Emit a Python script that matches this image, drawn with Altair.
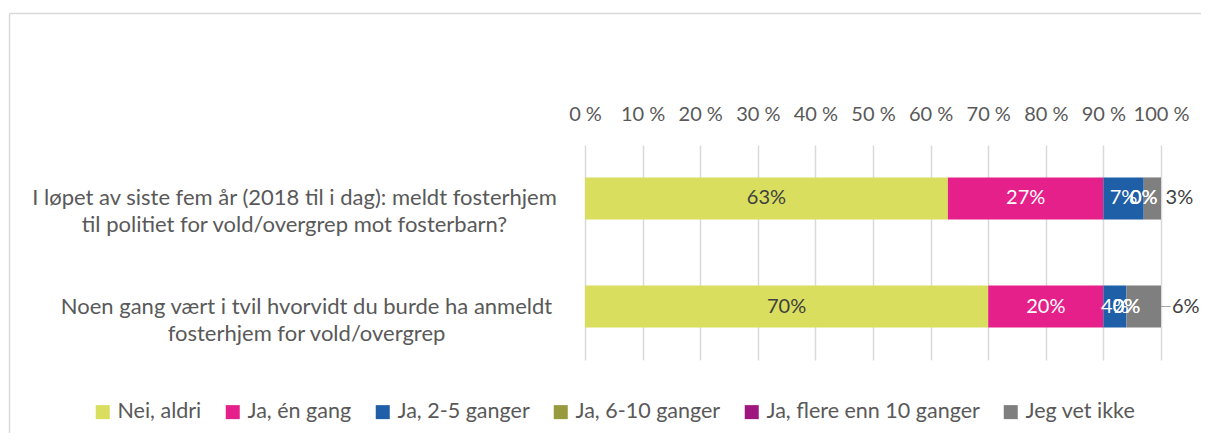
import altair as alt
import pandas as pd

# ---- data ----
questions = [
    "I løpet av siste fem år (2018 til i dag): meldt fosterhjem|til politiet for vold/overgrep mot fosterbarn?",
    "Noen gang vært i tvil hvorvidt du burde ha anmeldt|fosterhjem for vold/overgrep",
]
categories = ["Nei, aldri", "Ja, én gang", "Ja, 2-5 ganger", "Ja, 6-10 ganger",
              "Ja, flere enn 10 ganger", "Jeg vet ikke"]
colors = ["#D9DE5E", "#E6208A", "#1F5FA8", "#979A3D", "#A0167F", "#7F7F7F"]
values_q1 = [63, 27, 7, 0, 0, 3]
values_q2 = [70, 20, 4, 0, 0, 6]
tick_values = [0, 10, 20, 30, 40, 50, 60, 70, 80, 90, 100]
outside_label_pos = [103.2, 104.3]      # data-space position of "Jeg vet ikke" labels
leader_from = [None, 100]
leader_to = [None, 101.7]

FONT = "Lato"
GREY_TXT = "#595959"
DARK_TXT = "#404040"

# ---- build tables ----
rows = []
for q, vals in zip(questions, [values_q1, values_q2]):
    s = 0
    for i, (c, v) in enumerate(zip(categories, vals)):
        rows.append({"question": q, "category": c, "order": i, "value": v,
                     "start": s, "end": s + v, "mid": s + v / 2, "label": f"{v}%"})
        s += v
df = pd.DataFrame(rows)
df_in = df[df["category"] != "Jeg vet ikke"]
df_out = df[df["category"] == "Jeg vet ikke"].copy()
df_out["pos"] = outside_label_pos
df_lead = pd.DataFrame([{"question": q, "x": a, "x2": b}
                        for q, a, b in zip(questions, leader_from, leader_to) if a is not None])

yenc = alt.Y(
    "question:N", sort=questions,
    scale=alt.Scale(paddingInner=0.61, paddingOuter=0.3),
    axis=alt.Axis(
        title=None, labelExpr="split(datum.label, '|')", labelAlign="center",
        labelBaseline="middle",
        labelPadding={"condition": {"test": "indexof(datum.value, 'Noen') == 0", "value": 279},
                      "value": 291},
        labelFont=FONT, labelFontSize=22, labelColor=GREY_TXT, labelLineHeight=27,
        labelLimit=0, domain=False, ticks=False, grid=False,
    ),
)
xscale = alt.Scale(domain=[0, 100], nice=False)

bars = alt.Chart(df).mark_bar().encode(
    x=alt.X("start:Q", scale=xscale, axis=alt.Axis(
        orient="top", values=tick_values, labelExpr="datum.value + ' %'", title=None,
        labelFont=FONT, labelFontSize=20, labelColor=GREY_TXT, labelBaseline="alphabetic",
        labelPadding=25, domain=False, ticks=False, grid=True, gridColor="#D9D9D9",
        gridWidth=1.5, labelFlush=False)),
    x2="end:Q",
    y=yenc,
    color=alt.Color("category:N", sort=categories,
                    scale=alt.Scale(domain=categories, range=colors),
                    legend=alt.Legend(
                        title=None, orient="none", legendX=-493, legendY=256,
                        direction="horizontal", columns=6, symbolType="square",
                        symbolSize=196, symbolStrokeWidth=0, labelFont=FONT,
                        labelFontSize=21.5, labelColor=GREY_TXT, columnPadding=20,
                        labelOffset=4, labelLimit=0)),
)

inner = alt.Chart(df_in).mark_text(font=FONT, fontSize=20, baseline="middle").encode(
    x=alt.X("mid:Q", scale=xscale),
    y=alt.Y("question:N", sort=questions),
    text="label:N",
    color=alt.condition(alt.datum.category == "Nei, aldri", alt.value(DARK_TXT), alt.value("white")),
)

outer = alt.Chart(df_out).mark_text(font=FONT, fontSize=20, baseline="middle", color=DARK_TXT).encode(
    x=alt.X("pos:Q", scale=xscale),
    y=alt.Y("question:N", sort=questions),
    text="label:N",
)

leader = alt.Chart(df_lead).mark_rule(color="#A6A6A6", strokeWidth=1).encode(
    x=alt.X("x:Q", scale=xscale), x2="x2:Q",
    y=alt.Y("question:N", sort=questions),
)

frame_df = pd.DataFrame({"k": [0]})
frame_left = alt.Chart(frame_df).mark_rule(color="#D9D9D9", strokeWidth=1.5).encode(
    x=alt.value(-575.5), y=alt.value(-131.5), y2=alt.value(330))
frame_top = alt.Chart(frame_df).mark_rule(color="#D9D9D9", strokeWidth=1.5).encode(
    x=alt.value(-575.5), x2=alt.value(700), y=alt.value(-131.5))

chart = alt.layer(frame_left, frame_top, bars, inner, leader, outer).properties(
    width=576, height=215,
    padding={"left": 577, "top": 137, "right": 40, "bottom": 73},
    autosize=alt.AutoSizeParams(type="none"),
).configure_view(stroke=None)

chart.save("out.html", embed_options={"renderer": "svg", "actions": False})
